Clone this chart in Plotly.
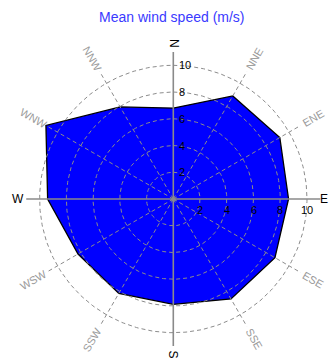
import numpy as np
import plotly.graph_objects as go

# Compass sectors (degrees clockwise from north) and mean speed per sector (m/s)
directions = ["N", "NNE", "ENE", "E", "ESE", "SSE", "S", "SSW", "WSW", "W", "WNW", "NNW"]
bearings = [0, 30, 60, 90, 120, 150, 180, 210, 240, 270, 300, 330]
mean_speed = [6.8, 8.9, 9.2, 8.62, 8.78, 8.63, 7.88, 8.15, 8.23, 9.4, 11.0, 7.95]

# Radial grid rings and their tick labels
ring_values = [2, 4, 6, 8, 10]
ring_labels = ["2", "4", "6", "8", "10"]

AXIS_LEN = 11.0
LABEL_R = 12.1
PX_PER_UNIT = 13.37
W, H = 331, 361
CX, CY = 173.3, 199.0


def to_xy(r, bearing_deg):
    t = np.deg2rad(np.asarray(bearing_deg, dtype=float))
    r = np.asarray(r, dtype=float)
    return r * np.sin(t), r * np.cos(t)


fig = go.Figure()

# Filled rose polygon
px, py = to_xy(mean_speed + mean_speed[:1], bearings + bearings[:1])
fig.add_trace(go.Scatter(
    x=px, y=py, mode="lines", fill="toself",
    fillcolor="#0000ff", line=dict(color="black", width=1.3),
    hoverinfo="skip"))

GRID = "#8c8c8c"

# Dashed rings
theta = np.linspace(0, 360, 361)
for rv in ring_values:
    cx, cy = to_xy(np.full_like(theta, rv), theta)
    fig.add_trace(go.Scatter(
        x=cx, y=cy, mode="lines",
        line=dict(color=GRID, width=1, dash="4px,3px"), hoverinfo="skip"))

# Dashed spokes on the intercardinal sectors
for b in bearings:
    if b % 90 == 0:
        continue
    sx, sy = to_xy([0, AXIS_LEN], [b, b])
    fig.add_trace(go.Scatter(
        x=sx, y=sy, mode="lines",
        line=dict(color=GRID, width=1, dash="4px,3px"), hoverinfo="skip"))

# Solid N-S and E-W axes
fig.add_trace(go.Scatter(x=[0, 0], y=[-AXIS_LEN, AXIS_LEN], mode="lines",
                         line=dict(color="#8a8a8a", width=1.6), hoverinfo="skip"))
fig.add_trace(go.Scatter(x=[-AXIS_LEN, AXIS_LEN], y=[0, 0], mode="lines",
                         line=dict(color="#8a8a8a", width=1.6), hoverinfo="skip"))

# Centre marker
fig.add_trace(go.Scatter(x=[0], y=[0], mode="markers",
                         marker=dict(color="#8a8a8a", size=6, symbol="triangle-up"),
                         hoverinfo="skip"))

annotations = []

# Direction labels, rotated along their spokes
for name, b in zip(directions, bearings):
    lx, ly = to_xy(LABEL_R, b)
    if b % 90 == 0:
        lx, ly = to_xy(11.65, b)
        ang = 90 if b in (0, 180) else 0
        anchor = "center"
        if b == 90:
            lx, anchor = (W - 1 - CX) / PX_PER_UNIT, "right"
        annotations.append(dict(
            x=float(lx), y=float(ly), xref="x", yref="y", text=name,
            showarrow=False, textangle=ang, xanchor=anchor,
            font=dict(family="Arial, Liberation Sans", size=12, color="black")))
    else:
        screen = 90 - b  # angle above the horizontal, counter-clockwise
        ang = -screen
        if ang > 90:
            ang -= 180
        if ang < -90:
            ang += 180
        annotations.append(dict(
            x=float(lx), y=float(ly), xref="x", yref="y", text=name,
            showarrow=False, textangle=ang,
            font=dict(family="Arial, Liberation Sans", size=11, color="#9a9a9a")))

# Ring tick labels on the north axis and on the east axis
for rv, txt in zip(ring_values, ring_labels):
    annotations.append(dict(
        x=0.25, y=rv, xref="x", yref="y", text=txt, showarrow=False,
        xanchor="left", yanchor="middle",
        font=dict(family="Arial, Liberation Sans", size=11, color="black")))
    annotations.append(dict(
        x=rv, y=-0.25, xref="x", yref="y", text=txt, showarrow=False,
        xanchor="center", yanchor="top",
        font=dict(family="Arial, Liberation Sans", size=11, color="black")))

# Title
annotations.append(dict(
    x=0.521, y=1 - 17 / H, xref="paper", yref="paper",
    text="Mean wind speed (m/s)", showarrow=False,
    xanchor="center", yanchor="middle",
    font=dict(family="Arial, Liberation Sans", size=14, color="#3a3aff")))

fig.update_layout(
    width=W, height=H, autosize=False,
    margin=dict(l=0, r=0, t=0, b=0),
    paper_bgcolor="white", plot_bgcolor="white",
    showlegend=False,
    annotations=annotations,
    xaxis=dict(range=[-CX / PX_PER_UNIT, (W - CX) / PX_PER_UNIT],
               visible=False, showgrid=False, zeroline=False, fixedrange=True),
    yaxis=dict(range=[-(H - CY) / PX_PER_UNIT, CY / PX_PER_UNIT],
               visible=False, showgrid=False, zeroline=False, fixedrange=True),
)

fig.write_html("out.html")
